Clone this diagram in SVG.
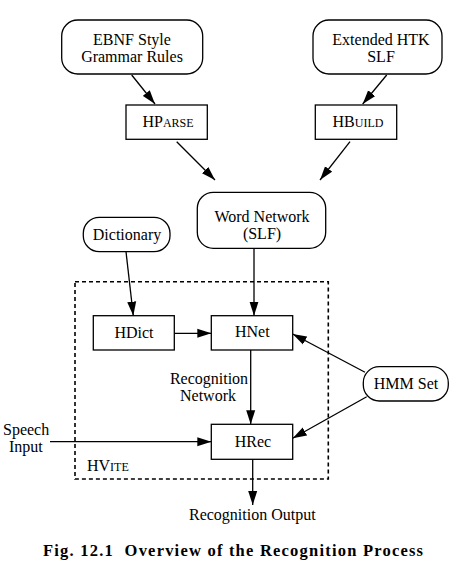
<svg xmlns="http://www.w3.org/2000/svg" width="457" height="587" viewBox="0 0 457 587">
<defs>
<marker id="ah" markerWidth="15" markerHeight="10" refX="14" refY="5" orient="auto" markerUnits="userSpaceOnUse">
<path d="M0,0.5 L14,5 L0,9.5 z" fill="#000"/>
</marker>
<style>
.box{fill:#fff;stroke:#000;stroke-width:1.3}
.t{font-family:"Liberation Serif","Times New Roman",serif;font-size:16px;fill:#000;text-anchor:middle}
.sc{font-size:12px}
.c{fill:none;stroke:#000;stroke-width:1.3;marker-end:url(#ah)}
</style>
</defs>
<rect width="457" height="587" fill="#fff"/>

<g id="hvite">
<rect x="75" y="281.7" width="253.3" height="197.3" fill="none" stroke="#000" stroke-width="1.6" stroke-dasharray="4,3"/>
<text class="t" x="87" y="470.5" style="text-anchor:start">HV<tspan class="sc">ITE</tspan></text>
</g>

<g id="connectors">
<line class="c" x1="131.7" y1="75" x2="155" y2="104"/>
<line class="c" x1="386.7" y1="75" x2="362.7" y2="104"/>
<line class="c" x1="176.7" y1="141.7" x2="215" y2="180"/>
<line class="c" x1="350" y1="141.7" x2="320" y2="180"/>
<line class="c" x1="126" y1="251.7" x2="133.3" y2="315.7"/>
<line class="c" x1="254" y1="248.3" x2="254" y2="315.7"/>
<line class="c" x1="174.3" y1="333.3" x2="211.3" y2="333.3"/>
<line class="c" x1="365" y1="372.3" x2="292.7" y2="334"/>
<line class="c" x1="366.7" y1="396.7" x2="292.7" y2="438.3"/>
<line class="c" x1="250.7" y1="350" x2="250.7" y2="424.3"/>
<line class="c" x1="50" y1="441.7" x2="211.3" y2="441.7"/>
<line class="c" x1="252.7" y1="459.3" x2="252.7" y2="505"/>
</g>

<g id="ebnf">
<rect class="box" x="61.7" y="20" width="141" height="54" rx="16"/>
<text class="t" x="132" y="45">EBNF Style</text>
<text class="t" x="132" y="62">Grammar Rules</text>
</g>

<g id="extslf">
<rect class="box" x="313" y="20" width="129" height="54" rx="16"/>
<text class="t" x="381" y="45">Extended HTK</text>
<text class="t" x="381" y="62">SLF</text>
</g>

<g id="hparse">
<rect class="box" x="126" y="105" width="81.3" height="34.3"/>
<text class="t" x="168" y="127">HP<tspan class="sc">ARSE</tspan></text>
</g>

<g id="hbuild">
<rect class="box" x="315.3" y="105" width="81.4" height="34.3"/>
<text class="t" x="358" y="127">HB<tspan class="sc">UILD</tspan></text>
</g>

<g id="wordnet">
<rect class="box" x="197.3" y="192.3" width="128.4" height="56" rx="16"/>
<text class="t" x="262" y="221.5">Word Network</text>
<text class="t" x="262" y="238.5">(SLF)</text>
</g>

<g id="dictionary">
<rect class="box" x="83.3" y="217.3" width="86.7" height="34.4" rx="16"/>
<text class="t" x="127" y="239.5">Dictionary</text>
</g>

<g id="hdict">
<rect class="box" x="93.3" y="315.7" width="81" height="34.3"/>
<text class="t" x="134" y="337.5">HDict</text>
</g>

<g id="hnet">
<rect class="box" x="211.3" y="315.7" width="81.4" height="34.3"/>
<text class="t" x="252.3" y="337">HNet</text>
</g>

<g id="hmmset">
<rect class="box" x="363.3" y="366.7" width="85" height="34.3" rx="16"/>
<text class="t" x="406" y="389.3">HMM Set</text>
</g>

<g id="hrec">
<rect class="box" x="211.3" y="424.3" width="81.4" height="35"/>
<text class="t" x="253" y="447">HRec</text>
</g>

<g id="labels">
<text class="t" x="209" y="383.5">Recognition</text>
<text class="t" x="208" y="400.5">Network</text>
<text class="t" x="3" y="435" style="text-anchor:start">Speech</text>
<text class="t" x="9" y="451.5" style="text-anchor:start">Input</text>
<text class="t" x="252.3" y="520">Recognition Output</text>
<text class="t" x="233" y="556" style="font-weight:bold;font-size:16.5px" xml:space="preserve" textLength="380" lengthAdjust="spacing">Fig. 12.1  Overview of the Recognition Process</text>
</g>
</svg>
